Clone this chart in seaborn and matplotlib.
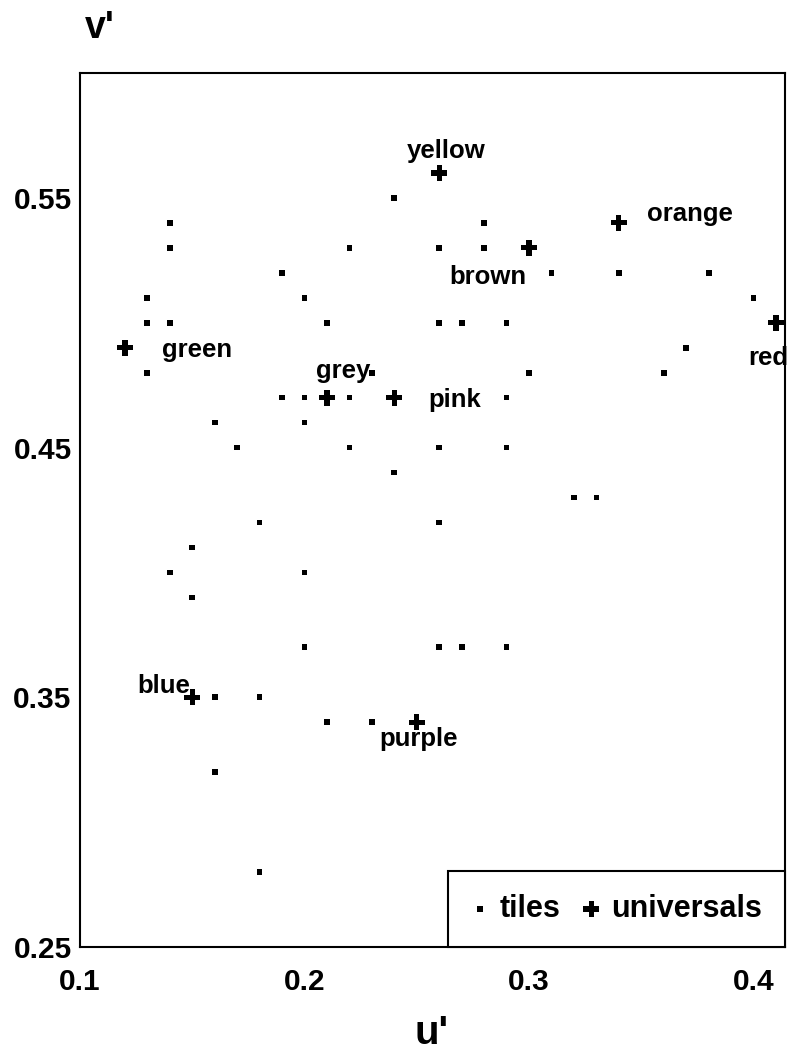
import matplotlib
matplotlib.use("Agg")
import matplotlib.pyplot as plt
import seaborn as sns

# ---- data ----
tile_u = [0.14, 0.14, 0.22, 0.19, 0.13, 0.20, 0.13, 0.14, 0.21, 0.13, 0.19, 0.20, 0.22,
          0.16, 0.20, 0.17, 0.22, 0.23,
          0.24, 0.28, 0.26, 0.28, 0.31, 0.34, 0.38, 0.40, 0.26, 0.27, 0.29, 0.37,
          0.36, 0.30, 0.29, 0.26, 0.29,
          0.24, 0.32, 0.33, 0.26, 0.26, 0.27, 0.29,
          0.18, 0.15, 0.14, 0.20, 0.15, 0.20, 0.16, 0.18, 0.21, 0.23, 0.16, 0.18]
tile_v = [0.54, 0.53, 0.53, 0.52, 0.51, 0.51, 0.50, 0.50, 0.50, 0.48, 0.47, 0.47, 0.47,
          0.46, 0.46, 0.45, 0.45, 0.48,
          0.55, 0.54, 0.53, 0.53, 0.52, 0.52, 0.52, 0.51, 0.50, 0.50, 0.50, 0.49,
          0.48, 0.48, 0.47, 0.45, 0.45,
          0.44, 0.43, 0.43, 0.42, 0.37, 0.37, 0.37,
          0.42, 0.41, 0.40, 0.40, 0.39, 0.37, 0.35, 0.35, 0.34, 0.34, 0.32, 0.28]

univ_names = ["yellow", "orange", "brown", "red", "pink", "green", "grey", "blue", "purple"]
univ_u = [0.26, 0.34, 0.30, 0.41, 0.24, 0.12, 0.21, 0.15, 0.25]
univ_v = [0.56, 0.54, 0.53, 0.50, 0.47, 0.49, 0.47, 0.35, 0.34]

x_ticks = [0.1, 0.2, 0.3, 0.4]
x_ticklabels = ["0.1", "0.2", "0.3", "0.4"]
y_ticks = [0.25, 0.35, 0.45, 0.55]
y_ticklabels = ["0.25", "0.35", "0.45", "0.55"]

# ---- style / layout (pixel offsets of the colour-name labels) ----
label_offsets = {
    "yellow": (-32, 15), "orange": (28, 2), "brown": (-80, -36), "red": (-28, -42),
    "pink": (34, -9), "green": (37, -9), "grey": (-11, 20), "blue": (-55, 4),
    "purple": (-37, -24),
}

sns.set_style("white")
plt.rcParams["font.family"] = ["Liberation Sans", "DejaVu Sans"]
plt.rcParams["text.color"] = "black"

W, H = 789, 1059
fig = plt.figure(figsize=(W / 100, H / 100), dpi=100)
ax = fig.add_axes([80 / W, 112 / H, 705 / W, 874 / H])

sns.scatterplot(x=tile_u, y=tile_v, marker="s", s=17, color="black",
                edgecolor="none", linewidth=0, label="tiles", ax=ax)
sns.scatterplot(x=univ_u, y=univ_v, marker="P", s=130, color="black",
                edgecolor="none", linewidth=0, label="universals", ax=ax)

for name, u, v in zip(univ_names, univ_u, univ_v):
    dx, dy = label_offsets[name]
    ax.annotate(name, (u, v), xytext=(dx, dy), textcoords="offset pixels",
                ha="left", va="baseline", fontsize=18.5, fontweight="bold",
                color="black")

ax.set_xlim(0.1, 0.414)
ax.set_ylim(0.25, 0.60)
ax.set_xticks(x_ticks)
ax.set_xticklabels(x_ticklabels)
ax.set_yticks(y_ticks)
ax.set_yticklabels(y_ticklabels)
ax.tick_params(axis="both", length=0, labelsize=21.5, colors="black")
ax.tick_params(axis="x", pad=15)
ax.tick_params(axis="y", pad=6)
for lbl in ax.get_xticklabels() + ax.get_yticklabels():
    lbl.set_fontweight("bold")
ax.set_xlabel("")
ax.set_ylabel("")
for sp in ax.spines.values():
    sp.set_visible(True)
    sp.set_color("black")
    sp.set_linewidth(1.5)

leg = ax.legend(loc="lower right", ncol=2, frameon=True, fancybox=False,
                edgecolor="black", framealpha=1, borderaxespad=0,
                prop={"size": 22, "weight": "bold"}, borderpad=0.75,
                handlelength=0.6, handletextpad=0.35, columnspacing=0.7,
                labelcolor="black")
leg.get_frame().set_linewidth(1.5)

fig.text(85 / W, 1 - 38 / H, "v'", ha="left", va="baseline",
         fontsize=27, fontweight="bold", color="black")
fig.text(432 / W, 1 - 1044 / H, "u'", ha="center", va="baseline",
         fontsize=29, fontweight="bold", color="black")

fig.savefig("out.png", dpi=100, facecolor="white")
